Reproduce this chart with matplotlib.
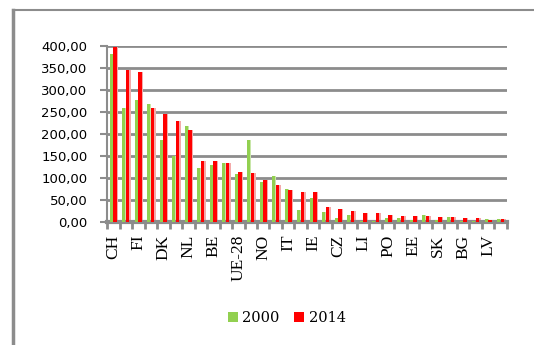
import numpy as np
import matplotlib
matplotlib.use("Agg")
import matplotlib.pyplot as plt
from matplotlib.lines import Line2D
from matplotlib.ticker import FuncFormatter, FixedLocator

plt.rcParams['font.family'] = ['Liberation Serif', 'DejaVu Serif']

# pays (un libellé sur deux est affiché sur l'axe)
pays = ['CH', '', 'FI', '', 'DK', '', 'NL', '', 'BE', '', 'UE-28', '',
        'NO', '', 'IT', '', 'IE', '', 'CZ', '', 'LI', '', 'PO', '',
        'EE', '', 'SK', '', 'BG', '', 'LV', '']
val_2000 = [381, 260, 278, 269, 186, 149, 218, 123, 129, 133, 108, 187,
            91, 105, 74, 28, 55, 23, 10, 17, 2, 3, 8, 8,
            5, 17, 4, 11, 3, 2, 7, 6]
val_2014 = [398, 346, 341, 258, 246, 230, 208, 138, 138, 135, 114, 112,
            95, 84, 72, 69, 69, 33, 29, 24, 20, 20, 17, 13,
            13, 13, 11, 12, 10, 8, 4, 7]

vert = '#92D050'
rouge = '#FF0000'
gris = '#8C8C8C'

fig = plt.figure(figsize=(5.34, 3.45), dpi=100)
ax = fig.add_axes([0.2004, 0.3565, 0.749, 0.5102])

x = np.arange(len(pays))
# ombre claire a droite de chaque barre (effet 3D)
ax.bar(x - 0.12, val_2000, width=0.3, color='#C8E6A8', zorder=2)
ax.bar(x + 0.22, val_2014, width=0.36, color='#F4AAAA', zorder=2)
ax.bar(x - 0.17, val_2000, width=0.24, color=vert, zorder=3, label='2000')
ax.bar(x + 0.15, val_2014, width=0.28, color=rouge, zorder=3, label='2014')

ax.set_xlim(-0.5, len(pays) - 0.5)
ax.set_ylim(0, 400)
ax.set_yticks(np.arange(0, 401, 50))
ax.yaxis.set_major_formatter(FuncFormatter(lambda v, p: f'{v:.2f}'.replace('.', ',')))
ax.grid(axis='y', color=gris, linewidth=2, zorder=0)
ax.set_axisbelow(True)

ax.set_xticks(x)
ax.set_xticklabels(pays, rotation=90, fontsize=12.5)
ax.tick_params(axis='x', length=0, pad=9)
ax.xaxis.set_minor_locator(FixedLocator(np.arange(-0.5, len(pays), 1)))
ax.tick_params(axis='x', which='minor', length=5, width=2, color=gris)
ax.tick_params(axis='y', labelsize=9.5, length=5, width=1.5, color=gris, pad=9)
for lab in ax.get_yticklabels():
    lab.set_family('DejaVu Sans')

for s in ['top', 'right']:
    ax.spines[s].set_visible(False)
ax.spines['left'].set_color(gris)
ax.spines['left'].set_linewidth(1.5)
ax.spines['bottom'].set_color(gris)
ax.spines['bottom'].set_linewidth(3)

ax.legend(loc='center', bbox_to_anchor=(0.537, 0.078), bbox_transform=fig.transFigure,
          ncol=2, frameon=False, prop={'family': 'DejaVu Serif', 'size': 10.5},
          handlelength=0.7, handleheight=0.7, handletextpad=0.3, columnspacing=1.0)

# cadre du graphique
fig.add_artist(Line2D([13 / 534, 13 / 534], [0, 1 - 10 / 345], color=gris, linewidth=2.5))
fig.add_artist(Line2D([13 / 534, 1], [1 - 10 / 345, 1 - 10 / 345], color=gris, linewidth=1.5))

fig.savefig('out.png', dpi=100)
